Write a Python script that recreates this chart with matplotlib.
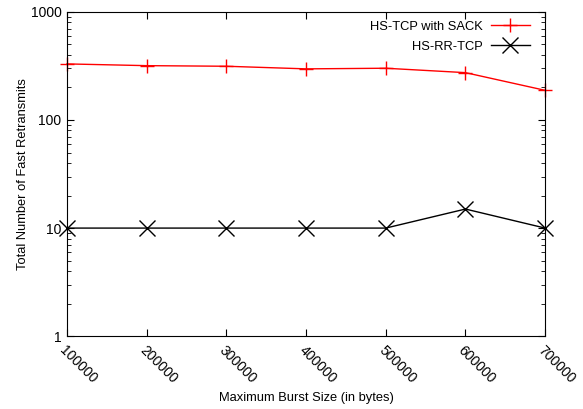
import matplotlib
matplotlib.use("Agg")
import matplotlib.pyplot as plt
from matplotlib.ticker import LogLocator, NullFormatter

plt.rcParams['font.family'] = ['Liberation Sans', 'DejaVu Sans']

burst = [100000, 200000, 300000, 400000, 500000, 600000, 700000]
tick_labels = ["100000", "200000", "300000", "400000", "500000", "600000", "700000"]
hs_tcp_sack = [330, 318, 314, 297, 301, 274, 188]
hs_rr_tcp = [10, 10, 10, 10, 10, 15, 10]

fig = plt.figure(figsize=(5.83, 4.09), dpi=100)
ax = fig.add_axes([0.115, 0.178, 0.82, 0.793])

ax.plot(burst, hs_tcp_sack, color='red', marker='+', markersize=10, markeredgewidth=1.0,
        linewidth=1.0, label='HS-TCP with SACK', clip_on=False)
ax.plot(burst, hs_rr_tcp, color='black', marker='x', markersize=11, markeredgewidth=1.0,
        linewidth=1.0, label='HS-RR-TCP', clip_on=False)

ax.set_yscale('log')
ax.set_ylim(1, 1000)
ax.set_xlim(100000, 700000)
ax.set_yticks([1, 10, 100, 1000])
ax.set_yticklabels(["1", "10", "100", "1000"])
ax.yaxis.set_minor_locator(LogLocator(base=10, subs=range(2, 10)))
ax.yaxis.set_minor_formatter(NullFormatter())
ax.set_xticks(burst)
ax.set_xticklabels(tick_labels, rotation=-45, ha='left', va='top', rotation_mode='anchor')

ax.tick_params(which='both', direction='in', top=True, right=True, labelsize=10)
ax.tick_params(which='major', length=5)
ax.tick_params(which='minor', length=3)
ax.tick_params(axis='x', pad=5)
ax.tick_params(axis='y', pad=4)

ax.set_xlabel('Maximum Burst Size (in bytes)', fontsize=9.3, labelpad=4)
ax.set_ylabel('Total Number of Fast Retransmits', fontsize=9.3, labelpad=1)

ax.legend(loc='upper right', bbox_to_anchor=(1.0, 1.02), frameon=False, markerfirst=False,
          fontsize=9.3, handlelength=3.0, borderaxespad=0.8, labelspacing=0.6,
          handletextpad=0.6)

fig.savefig('out.png', dpi=100)
